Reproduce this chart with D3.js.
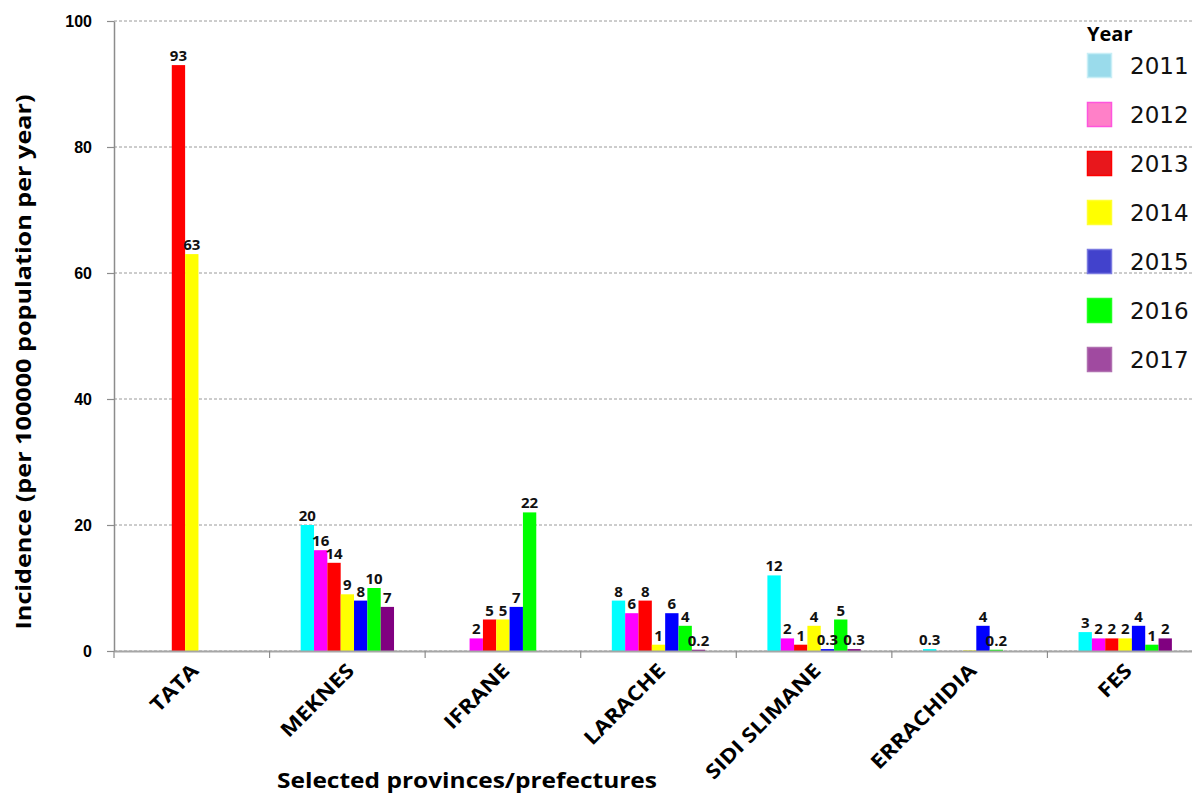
<!DOCTYPE html>
<html>
<head>
<meta charset="utf-8">
<script src="https://cdn.jsdelivr.net/npm/d3@7/dist/d3.min.js"></script>
<style>
  html, body { margin: 0; padding: 0; background: #fff; }
  svg { display: block; }
</style>
</head>
<body>
<svg id="chart" width="1192" height="799"></svg>
<script>
// Provinces / prefectures on the x axis
const categories = ["TATA", "MEKNES", "IFRANE", "LARACHE", "SIDI SLIMANE", "ERRACHIDIA", "FES"];
const years = ["2011", "2012", "2013", "2014", "2015", "2016", "2017"];

// Incidence per 100000 population per year, one array per year (null = no bar)
const inc2011 = [null, 20, null, 8, 12, 0.3, 3];
const inc2012 = [null, 16, 2, 6, 2, null, 2];
const inc2013 = [93, 14, 5, 8, 1, null, 2];
const inc2014 = [63, 9, 5, 1, 4, 0.1, 2];
const inc2015 = [null, 8, 7, 6, 0.3, 4, 4];
const inc2016 = [null, 10, 22, 4, 5, 0.2, 1];
const inc2017 = [null, 7, null, 0.2, 0.3, null, 2];

// Bars that carry no value label
const unlabeled = ["ERRACHIDIA|2014"];

const yTicks = [0, 20, 40, 60, 80, 100];

const barColors = ["#00ffff", "#ff00ff", "#ff0000", "#ffff00", "#0000ff", "#00ff00", "#800080"];
const legendColors = ["#9adbeb", "#ff80c8", "#e8171c", "#ffff00", "#4242cc", "#00ff00", "#a04aa0"];
const legendStroke = ["#c8eef6", "#ff55dd", "#ff0000", "#ffff33", "#7a7ae0", "#22ff22", "#b070b0"];

const seriesValues = [inc2011, inc2012, inc2013, inc2014, inc2015, inc2016, inc2017];

const cells = [];
categories.forEach((cat, ci) => {
  years.forEach((yr, yi) => {
    const v = seriesValues[yi][ci];
    if (v !== null) cells.push({ cat, year: yr, yi, value: v });
  });
});

const svg = d3.select("#chart");
const plotLeft = 114, plotRight = 1203, plotTop = 21, plotBottom = 651;

const x = d3.scaleBand().domain(categories).range([plotLeft, plotRight]).padding(0);
const bw = x.bandwidth();
const xi = d3.scaleBand().domain(years).range([bw * 0.2, bw * 0.8]).padding(0);
const y = d3.scaleLinear().domain([0, 100]).range([plotBottom, plotTop]);
const color = d3.scaleOrdinal().domain(years).range(barColors);

// Dashed horizontal gridlines
svg.append("g")
  .selectAll("line")
  .data(yTicks)
  .join("line")
  .attr("x1", plotLeft).attr("x2", plotRight)
  .attr("y1", d => y(d)).attr("y2", d => y(d))
  .attr("stroke", "#9a9a9a")
  .attr("stroke-width", 1)
  .attr("stroke-dasharray", "3,2");

// Bars
svg.append("g")
  .selectAll("rect")
  .data(cells)
  .join("rect")
  .attr("x", d => x(d.cat) + xi(d.year))
  .attr("width", xi.bandwidth())
  .attr("y", d => y(d.value))
  .attr("height", d => y(0) - y(d.value))
  .attr("fill", d => color(d.year));

// Y axis
const yAxis = svg.append("g")
  .attr("transform", `translate(${plotLeft},0)`)
  .call(d3.axisLeft(y).tickValues(yTicks).tickSize(7).tickSizeOuter(0).tickPadding(15));
yAxis.select(".domain").attr("stroke", "#8c8c8c").attr("stroke-width", 1.5);
yAxis.selectAll(".tick line").attr("stroke", "#8c8c8c").attr("stroke-width", 1.2);
yAxis.selectAll(".tick text")
  .attr("font-family", "'Liberation Sans', Arial, sans-serif")
  .attr("font-size", 16)
  .attr("font-weight", "bold")
  .attr("fill", "#000");

// X axis with rotated category names
const xAxis = svg.append("g")
  .attr("transform", `translate(0,${plotBottom})`)
  .call(d3.axisBottom(x).tickSize(0).tickSizeOuter(0));
xAxis.select(".domain").attr("stroke", "#a6a6a6").attr("stroke-width", 2);
xAxis.selectAll(".tick text")
  .attr("font-family", "'Open Sans', sans-serif")
  .attr("font-size", 20)
  .attr("font-weight", "bold")
  .attr("fill", "#000")
  .attr("text-anchor", "end")
  .attr("y", 0).attr("dy", 0)
  .attr("transform", "translate(8,21) rotate(-45) scale(1.15,1)");

// Tick marks between categories
svg.append("g")
  .selectAll("line")
  .data(categories.map(c => x(c)).concat([plotRight]))
  .join("line")
  .attr("x1", d => d).attr("x2", d => d)
  .attr("y1", plotBottom).attr("y2", plotBottom + 7)
  .attr("stroke", "#8c8c8c")
  .attr("stroke-width", 1.2);

// Value labels above bars
svg.append("g")
  .selectAll("text")
  .data(cells.filter(d => !unlabeled.includes(d.cat + "|" + d.year)))
  .join("text")
  .attr("x", d => x(d.cat) + xi(d.year) + xi.bandwidth() / 2)
  .attr("y", d => y(d.value) - 4)
  .attr("text-anchor", "middle")
  .attr("font-family", "'Open Sans', sans-serif")
  .attr("font-size", 15)
  .attr("font-weight", "bold")
  .attr("fill", "#111")
  .text(d => String(d.value));

// Axis titles
svg.append("text")
  .attr("transform", "translate(31,362) rotate(-90)")
  .attr("text-anchor", "middle")
  .attr("font-family", "'Open Sans', sans-serif")
  .attr("font-size", 21)
  .attr("font-weight", "bold")
  .attr("textLength", 535)
  .attr("lengthAdjust", "spacingAndGlyphs")
  .text("Incidence (per 100000 population per year)");

svg.append("text")
  .attr("x", 467).attr("y", 788)
  .attr("text-anchor", "middle")
  .attr("font-family", "'Open Sans', sans-serif")
  .attr("font-size", 21)
  .attr("font-weight", "bold")
  .attr("textLength", 380)
  .attr("lengthAdjust", "spacingAndGlyphs")
  .text("Selected provinces/prefectures");

// Legend
const legend = svg.append("g").attr("transform", "translate(1087,0)");
legend.append("text")
  .attr("x", 0).attr("y", 41)
  .attr("font-family", "'Open Sans', sans-serif")
  .attr("font-size", 20)
  .attr("font-weight", "bold")
  .text("Year");
const items = legend.selectAll("g.item")
  .data(years)
  .join("g")
  .attr("class", "item")
  .attr("transform", (d, i) => `translate(0,${53 + i * 49})`);
items.append("rect")
  .attr("x", 0.5).attr("y", 0.5)
  .attr("width", 24).attr("height", 24)
  .attr("fill", (d, i) => legendColors[i])
  .attr("stroke", (d, i) => legendStroke[i])
  .attr("stroke-width", 1.5);
items.append("text")
  .attr("x", 43).attr("y", 21)
  .attr("font-family", "'DejaVu Sans', sans-serif")
  .attr("font-size", 23)
  .attr("fill", "#111")
  .text(d => d);
</script>
</body>
</html>
